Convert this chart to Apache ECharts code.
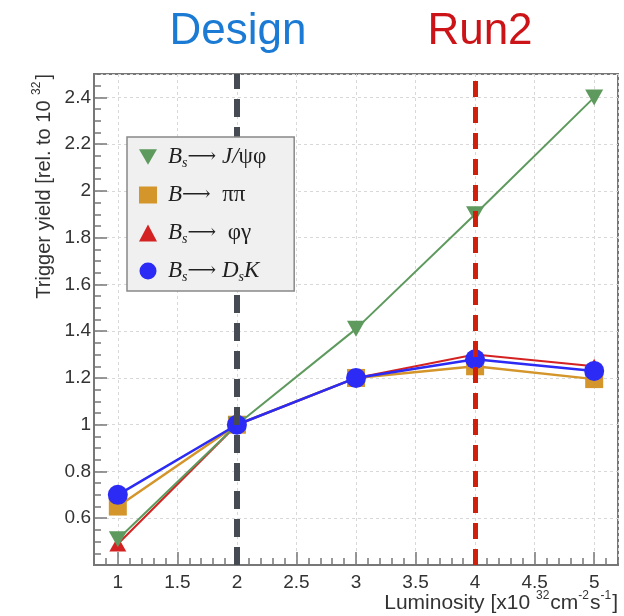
<!DOCTYPE html>
<html>
<head>
<meta charset="utf-8">
<script src="https://cdn.jsdelivr.net/npm/echarts@6/dist/echarts.min.js"></script>
<style>
  html, body { margin: 0; padding: 0; background: #fff; }
  #chart { width: 624px; height: 616px; }
</style>
</head>
<body>
<div id="chart"></div>
<script>
// luminosity points [x10^32]
var lumi = [1, 2, 3, 4, 5]
// trigger yield relative to 10^32
var jpsiPhi = [0.51, 1.0, 1.41, 1.9, 2.4]
var pipi = [0.65, 1.0, 1.2, 1.25, 1.195]
var phiGamma = [0.49, 1.0, 1.2, 1.3, 1.25]
var dsK = [0.7, 1.0, 1.2, 1.28, 1.23]
// design / run2 luminosity
var designLumi = 2
var run2Lumi = 4

var downTri = 'path://M0,0L20,0L10,17Z'

function pairs (ys) {
  return lumi.map(function (x, i) { return [x, ys[i]] })
}

var legendText = {
  jpsiphi: '{i|B}{s|s}{a|⟶}{i| J/}{g|ψφ}',
  pipi: '{i|B}{a|⟶}{g|  ππ}',
  phigamma: '{i|B}{s|s}{a|⟶}{g|  φγ}',
  dsk: '{i|B}{s|s}{a|⟶}{i| D}{s|s}{i|K}'
}

var myChart = echarts.init(document.getElementById('chart'))
myChart.setOption({
  animation: false,
  grid: {
    left: 94,
    right: 6,
    top: 74,
    bottom: 51,
    show: true,
    borderColor: '#777',
    borderWidth: 2,
    backgroundColor: '#fff'
  },
  legend: {
    z: 20,
    orient: 'vertical',
    left: 127,
    top: 137,
    padding: [6, 28, 6, 12],
    itemGap: 10,
    itemWidth: 18,
    itemHeight: 17,
    backgroundColor: '#f0f0f0',
    borderColor: '#888',
    borderWidth: 1.5,
    data: [
      { name: 'jpsiphi', icon: downTri },
      { name: 'pipi', icon: 'rect' },
      { name: 'phigamma', icon: 'triangle' },
      { name: 'dsk', icon: 'circle' }
    ],
    formatter: function (name) { return legendText[name] },
    textStyle: {
      padding: [0, 0, 0, 6],
      lineHeight: 28,
      rich: {
        i: { fontFamily: 'Liberation Serif', fontStyle: 'italic', fontSize: 23, color: '#222' },
        s: { fontFamily: 'Liberation Serif', fontStyle: 'italic', fontSize: 14, color: '#222', padding: [12, 0, 0, 0] },
        a: { fontFamily: 'DejaVu Serif', fontSize: 20, color: '#222' },
        g: { fontFamily: 'Liberation Serif', fontSize: 23, color: '#222' }
      }
    }
  },
  xAxis: [
    {
      // major ticks, labels, grid lines
      type: 'value',
      min: 0.8,
      max: 5.2,
      minInterval: 0.5,
      maxInterval: 0.5,
      axisLine: { show: true, lineStyle: { color: '#777', width: 2 } },
      axisTick: { inside: true, length: 13, lineStyle: { color: '#777', width: 1.5 } },
      axisLabel: { showMinLabel: false, showMaxLabel: false, margin: 8, fontSize: 19, color: '#333', fontFamily: 'Liberation Sans' },
      splitLine: { show: true, lineStyle: { color: '#d8d8d8', type: [3, 3], width: 1 } }
    },
    {
      // minor ticks
      type: 'value',
      min: 0.8,
      max: 5.2,
      interval: 0.1,
      position: 'bottom',
      axisLine: { show: false },
      axisTick: { inside: true, length: 7, lineStyle: { color: '#777', width: 1.5 } },
      axisLabel: { show: false },
      splitLine: { show: false }
    }
  ],
  yAxis: [
    {
      type: 'value',
      min: 0.4,
      max: 2.5,
      interval: 0.2,
      axisLine: { show: true, lineStyle: { color: '#777', width: 2 } },
      axisTick: { inside: true, length: 13, lineStyle: { color: '#777', width: 1.5 } },
      axisLabel: {
        showMinLabel: false,
        showMaxLabel: false,
        margin: 3,
        fontSize: 19,
        color: '#333',
        fontFamily: 'Liberation Sans',
        formatter: function (v) { return String(+v.toFixed(1)) }
      },
      splitLine: { show: true, lineStyle: { color: '#d8d8d8', type: [3, 3], width: 1 } }
    },
    {
      type: 'value',
      min: 0.4,
      max: 2.5,
      interval: 0.05,
      position: 'left',
      axisLine: { show: false },
      axisTick: { inside: true, length: 7, lineStyle: { color: '#777', width: 1.5 } },
      axisLabel: { show: false },
      splitLine: { show: false }
    }
  ],
  graphic: [
    { type: 'text', x: 238, y: 32, style: { text: 'Design', fill: '#1a7ad4', font: '44px "Liberation Sans"', align: 'center', verticalAlign: 'middle' } },
    { type: 'text', x: 480, y: 32, style: { text: 'Run2', fill: '#cc1418', font: '44px "Liberation Sans"', align: 'center', verticalAlign: 'middle' } },
    {
      type: 'text',
      x: 44,
      y: 74,
      rotation: Math.PI / 2,
      style: {
        text: '{n|Trigger yield [rel. to 10 }{p|32}{n|]}',
        align: 'right',
        verticalAlign: 'middle',
        rich: {
          n: { fontSize: 20, fontFamily: 'Liberation Sans', fill: '#333' },
          p: { fontSize: 12, fontFamily: 'Liberation Sans', fill: '#333', padding: [0, 2, 14, 0] }
        }
      }
    },
    {
      type: 'text',
      x: 618,
      y: 603,
      style: {
        text: '{n|Luminosity [x10 }{p|32}{n|cm}{p|-2}{n|s}{p|-1}{n|]}',
        align: 'right',
        verticalAlign: 'middle',
        rich: {
          n: { fontSize: 21, fontFamily: 'Liberation Sans', fill: '#333' },
          p: { fontSize: 12, fontFamily: 'Liberation Sans', fill: '#333', padding: [0, 1, 14, 0] }
        }
      }
    }
  ],
  series: [
    {
      name: 'phigamma',
      type: 'line',
      data: pairs(phiGamma),
      symbol: 'triangle',
      symbolSize: [17, 15],
      color: '#d42222',
      lineStyle: { width: 2 },
      z: 2
    },
    {
      name: 'pipi',
      type: 'line',
      data: pairs(pipi),
      symbol: 'rect',
      symbolSize: 18,
      color: '#d4952a',
      lineStyle: { width: 2.5 },
      z: 3
    },
    {
      name: 'jpsiphi',
      type: 'line',
      data: pairs(jpsiPhi),
      symbol: downTri,
      symbolSize: [18, 16],
      color: '#5e9a5e',
      lineStyle: { width: 2 },
      z: 4
    },
    {
      name: 'dsk',
      type: 'line',
      data: pairs(dsK),
      symbol: 'circle',
      symbolSize: 20,
      color: '#2b2bf5',
      lineStyle: { width: 2.5 },
      z: 5
    },
    {
      // vertical reference lines, drawn above the markers
      name: 'refs',
      type: 'line',
      data: [],
      z: 10,
      markLine: {
        z: 10,
        silent: true,
        symbol: 'none',
        label: { show: false },
        data: [
          { xAxis: designLumi, lineStyle: { color: '#464b53', width: 6, type: [18, 10] } },
          { xAxis: run2Lumi, lineStyle: { color: '#d0200c', width: 5, type: [16, 10] } }
        ]
      }
    }
  ]
})
</script>
</body>
</html>
